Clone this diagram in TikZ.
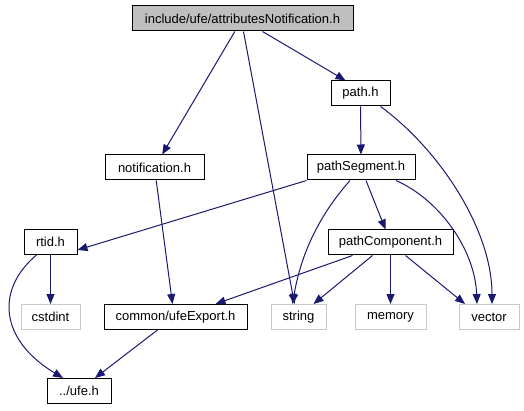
\documentclass[tikz,border=0pt]{standalone}
\usepackage{fontspec}
\setmainfont{Liberation Sans}
\usepackage{tikz}
\usetikzlibrary{arrows.meta}
\definecolor{edgeblue}{RGB}{25,25,112}
\definecolor{boxgray}{RGB}{191,191,191}
\definecolor{extgray}{RGB}{200,200,200}

\begin{document}
\begin{tikzpicture}[x=1pt,y=-1pt,
    file/.style={draw=black, line width=1pt, minimum height=25pt, inner sep=0pt,
      font=\fontsize{13}{15}\selectfont},
    ext/.style={file, draw=extgray},
    dep/.style={draw=edgeblue, line width=1pt, -{Triangle[length=10pt,width=8pt]}, edgeblue}]
        \useasboundingbox (0,0) rectangle (524,411);

        % Files
        \node[file, fill=boxgray, minimum width=221pt] (attr) at (242.5,18.5) {include/ufe/attributesNotification.h};
        \node[file, minimum width=59pt] (path) at (360.5,93.5) {path.h};
        \node[file, minimum width=108pt] (pseg) at (361,167.5) {pathSegment.h};
        \node[file, minimum width=99pt] (notif) at (154.5,167.5) {notification.h};
        \node[file, minimum width=53pt] (rtid) at (50.5,242) {rtid.h};
        \node[file, minimum width=125pt] (pcomp) at (390.5,242.5) {pathComponent.h};
        \node[file, minimum width=143pt] (uexp) at (175.5,317) {common/ufeExport.h};
        \node[file, minimum width=64pt] (ufe) at (79,391) {../ufe.h};

        % System headers
        \node[ext, minimum width=59pt] (cstdint) at (50.5,317) {cstdint};
        \node[ext, minimum width=55pt] (string) at (298.5,317) {string};
        \node[ext, minimum width=71pt] (memory) at (390.5,317) {memory};
        \node[ext, minimum width=60pt] (vector) at (489,317) {vector};

        % Includes of attributesNotification.h
        \draw[dep] (attr) -- (notif);
        \draw[dep] ([xshift=1pt]attr.south) -- ([xshift=-4pt]string.north);
        \draw[dep] ([xshift=20pt]attr.south) -- ([xshift=-15pt]path.north);

        % Includes of path.h
        \draw[dep] (path) -- (pseg);
        \draw[dep] ([xshift=20pt]path.south) .. controls (440,150) and (492,230) .. ([xshift=3pt]vector.north);

        % Includes of pathSegment.h
        \draw[dep] (pseg.south west) -- ([yshift=-8pt]rtid.east);
        \draw[dep] ([xshift=-11pt]pseg.south) .. controls (315,220) and (300,260) .. ([xshift=-6pt]string.north);
        \draw[dep] ([xshift=5pt]pseg.south) -- ([xshift=-5pt]pcomp.north);
        \draw[dep] ([xshift=35pt]pseg.south) .. controls (440,200) and (475,250) .. ([xshift=-12pt]vector.north);

        % Includes of pathComponent.h
        \draw[dep] ([xshift=-38pt]pcomp.south) -- ([xshift=40pt]uexp.north);
        \draw[dep] ([xshift=-18pt]pcomp.south) -- ([xshift=15pt]string.north);
        \draw[dep] (pcomp) -- (memory);
        \draw[dep] ([xshift=15pt]pcomp.south) -- ([xshift=-24pt]vector.north);

        % Remaining includes
        \draw[dep] (notif) -- ([xshift=-3pt]uexp.north);
        \draw[dep] (rtid) -- (cstdint);
        \draw[dep] ([xshift=-14pt]rtid.south) .. controls (-5,290) and (0,340) .. ([xshift=-16pt]ufe.north);
        \draw[dep] ([xshift=-18pt]uexp.south) -- ([xshift=16pt]ufe.north);
    \end{tikzpicture}
\end{document}
